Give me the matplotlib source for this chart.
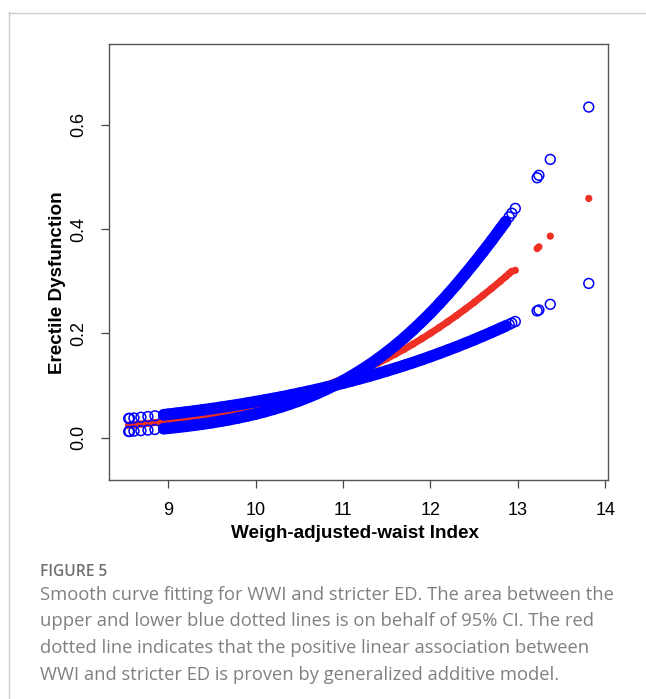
"""
Smooth curve fitting for WWI and stricter ED (GAM fit with 95% CI).
"""
import matplotlib
matplotlib.use('Agg')
import matplotlib.pyplot as plt
import numpy as np
from matplotlib.lines import Line2D

# WWI values of the plotted points
wwi = [8.55, 8.56, 8.61, 8.69, 8.77, 8.85, 8.95, 9.0, 9.1, 9.2, 9.3, 9.4,
       9.5, 9.6, 9.7, 9.8, 9.9, 10.0, 10.1, 10.2, 10.3, 10.4, 10.5, 10.6,
       10.7, 10.8, 10.9, 11.0, 11.1, 11.2, 11.3, 11.4, 11.5, 11.6, 11.7,
       11.8, 11.9, 12.0, 12.1, 12.2, 12.3, 12.4, 12.5, 12.6, 12.7, 12.8,
       12.86, 12.9, 12.93, 12.97, 13.22, 13.24, 13.37, 13.81]

# fitted probability (red)
fit = [0.0239, 0.0241, 0.0248, 0.0262, 0.0276, 0.0291, 0.0311, 0.0321,
       0.0343, 0.0366, 0.0390, 0.0416, 0.0444, 0.0473, 0.0505, 0.0538,
       0.0573, 0.0611, 0.0651, 0.0693, 0.0738, 0.0785, 0.0835, 0.0888,
       0.0944, 0.1003, 0.1066, 0.1131, 0.1202, 0.1274, 0.1351, 0.1432,
       0.1516, 0.1605, 0.1698, 0.1795, 0.1897, 0.2003, 0.2113, 0.2227,
       0.2346, 0.2469, 0.2596, 0.2729, 0.2864, 0.3003, 0.3089, 0.3147,
       0.3191, 0.3210, 0.3628, 0.3660, 0.3866, 0.4589]

# confidence bound that ends on top (blue)
ci_upper = [0.0120, 0.0121, 0.0127, 0.0137, 0.0147, 0.0159, 0.0174, 0.0182,
            0.0200, 0.0219, 0.0241, 0.0264, 0.0289, 0.0317, 0.0347, 0.0380,
            0.0416, 0.0455, 0.0498, 0.0545, 0.0595, 0.0651, 0.0710, 0.0775,
            0.0845, 0.0921, 0.1003, 0.1091, 0.1187, 0.1289, 0.1398, 0.1516,
            0.1641, 0.1774, 0.1916, 0.2067, 0.2226, 0.2392, 0.2569, 0.2752,
            0.2944, 0.3145, 0.3351, 0.3564, 0.3782, 0.4009, 0.4144, 0.4236,
            0.4305, 0.4398, 0.4985, 0.5032, 0.5337, 0.6341]

# confidence bound that ends at the bottom (blue)
ci_lower = [0.0370, 0.0372, 0.0379, 0.0393, 0.0407, 0.0421, 0.0440, 0.0450,
            0.0470, 0.0491, 0.0512, 0.0535, 0.0558, 0.0583, 0.0608, 0.0635,
            0.0662, 0.0692, 0.0721, 0.0752, 0.0784, 0.0818, 0.0853, 0.0889,
            0.0926, 0.0966, 0.1006, 0.1048, 0.1091, 0.1136, 0.1182, 0.1231,
            0.1281, 0.1333, 0.1386, 0.1441, 0.1498, 0.1557, 0.1618, 0.1681,
            0.1745, 0.1812, 0.1880, 0.1951, 0.2023, 0.2098, 0.2143, 0.2174,
            0.2198, 0.2229, 0.2432, 0.2450, 0.2559, 0.2959]

x_ticks = [9, 10, 11, 12, 13, 14]
y_ticks = [0.0, 0.2, 0.4, 0.6]
y_tick_labels = ['0.0', '0.2', '0.4', '0.6']

caption_title = 'FIGURE 5'
caption_lines = [
    'Smooth curve fitting for WWI and stricter ED. The area between the',
    'upper and lower blue dotted lines is on behalf of 95% CI. The red',
    'dotted line indicates that the positive linear association between',
    'WWI and stricter ED is proven by generalized additive model.',
]

W, H = 646, 699
BLUE = '#0000FF'
RED = '#EE3024'


def fx(px):
    return px / W


def fy(py):
    return 1 - py / H


plt.rcParams['font.family'] = ['Liberation Sans', 'DejaVu Sans']

fig = plt.figure(figsize=(W / 100, H / 100), dpi=100)
ax = fig.add_axes([fx(109), fy(480), fx(608) - fx(109), fy(44) - fy(480)])

x = np.array(wwi)
dense_red = x <= 12.93
dense_blue = (x >= 8.95) & (x <= 12.86)

# red fit drawn first, blue CI on top (as in the original)
ax.plot(x[dense_red], np.array(fit)[dense_red], color=RED, lw=5.0,
        solid_capstyle='round', zorder=2)
ax.scatter(wwi, fit, s=27, color=RED, edgecolors='none', zorder=2)

for band in (ci_upper, ci_lower):
    y = np.array(band)
    ax.plot(x[dense_blue], y[dense_blue], color=BLUE, lw=8.4,
            solid_capstyle='round', zorder=3)
    ax.scatter(wwi, band, s=50, facecolors='none', edgecolors=BLUE,
               linewidths=1.1, zorder=3)

ax.set_xlim(8.325, 14.03)
ax.set_ylim(-0.081, 0.755)

ax.set_xticks(x_ticks)
ax.set_xticklabels([str(t) for t in x_ticks])
ax.set_yticks(y_ticks)
ax.set_yticklabels(y_tick_labels, rotation=90, va='center')
ax.tick_params(axis='both', direction='out', length=5.5, width=0.9,
               color='#444444', labelsize=13)
ax.tick_params(axis='x', pad=10)
ax.tick_params(axis='y', pad=10)

for side in ax.spines.values():
    side.set_color('#555555')
    side.set_linewidth(1.0)

# axis titles
fig.text(fx(355), fy(533), 'Weigh-adjusted-waist Index', ha='center',
         va='center', fontsize=13.6, fontweight='bold')
fig.text(fx(57), fy(283), 'Erectile Dysfunction', ha='center', va='center',
         rotation=90, fontsize=13.6, fontweight='bold')

# light page frame
fig.add_artist(Line2D([fx(8.5), fx(8.5)], [fy(12), 0], color='#cccccc',
                      lw=1.0))
fig.add_artist(Line2D([fx(8.5), 1], [fy(12.5), fy(12.5)], color='#cccccc',
                      lw=1.0))

# caption
fig.text(fx(40), fy(572), caption_title, ha='left', va='center',
         fontsize=11.2, color='#707070', fontweight='semibold',
         family=['Open Sans', 'DejaVu Sans'])
for i, line in enumerate(caption_lines):
    fig.text(fx(40), fy(595 + 26.5 * i), line, ha='left', va='center',
             fontsize=13.2, color='#808080',
             family=['Open Sans', 'DejaVu Sans'])

fig.savefig('out.png', dpi=100)
